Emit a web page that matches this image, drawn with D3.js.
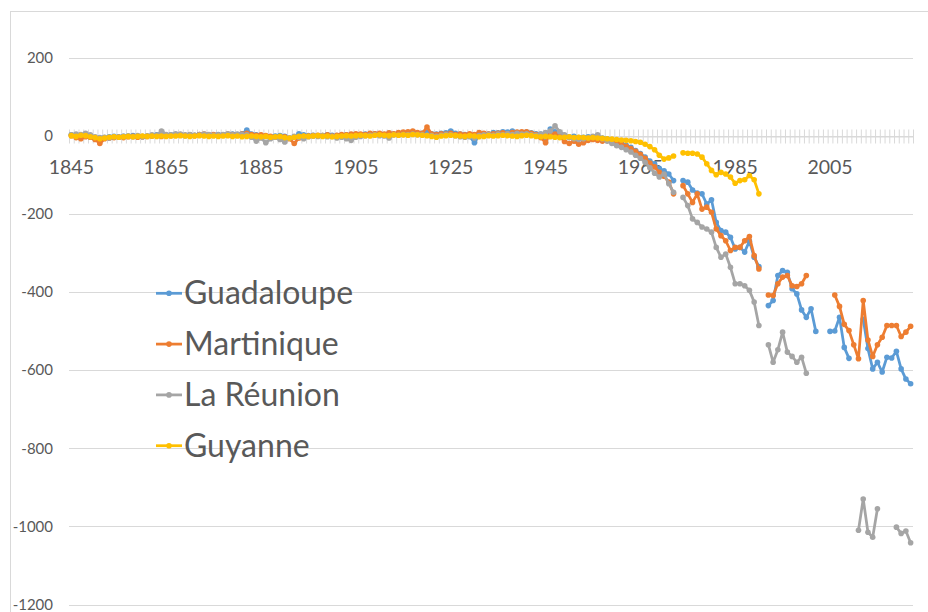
<!DOCTYPE html>
<html>
<head>
<meta charset="utf-8">
<script src="https://cdn.jsdelivr.net/npm/d3@7"></script>
<style>
  body { margin: 0; background: #fff; }
  text { font-family: Lato, "Open Sans", sans-serif; fill: #595959; }
</style>
</head>
<body>
<svg id="chart" width="928" height="612"></svg>
<script>
// categories: one per year
const years = d3.range(1845, 2023);
const xTickLabels = ['1845', '1865', '1885', '1905', '1925', '1945', '1965', '1985', '2005'];
const yTicks = [200, 0, -200, -400, -600, -800, -1000, -1200];
const seriesNames = ['Guadaloupe', 'Martinique', 'La Réunion', 'Guyanne'];
const seriesColors = ['#5B9BD5', '#ED7D31', '#A5A5A5', '#FFC000'];

const guadaloupe = [
  2, 0, -2, 3, -4, -8, -6, -5, -3, -2,
  -3, -2, -1, 0, -2, -3, -1, 0, 2, 1,
  0, 2, 3, 1, 0, 2, 1, 3, 2, 1,
  2, 3, 1, 2, 4, 3, 5, 14, 4, 2,
  0, -2, -3, -1, 0, -2, -6, -4, 5, 2,
  0, 1, -1, 0, 2, 1, 0, -1, 2, 1,
  3, 2, 4, 3, 5, 4, 3, 6, 4, 5,
  6, 5, 7, 4, 6, 8, 5, 4, 6, 7,
  12, 6, 4, 3, -2, -18, 2, 5, 4, 8,
  7, 10, 9, 12, 8, 6, 9, 7, 5, 4,
  -4, 17, 10, 2, 0, -3, -2, -5, -4, -3,
  -3, -4, -6, -8, -12, -16, -20, -25, -30, -38,
  -46, -55, -65, -72, -85, -90, -98, -115, null, -115,
  -119, -139, -147, -149, -175, -164, -222, -243, -247, -260,
  -290, -286, -298, -270, -311, -335, null, -435, -422, -358,
  -345, -350, -392, -405, -446, -465, -443, -501, null, null,
  -501, -500, -465, -542, -570, null, null, -470, -545, -597,
  -580, -605, -567, -569, -552, -597, -623, -635
];

const martinique = [
  0, -5, -8, -3, -4, -10, -20, -8, -6, -5,
  -4, -5, -3, -2, -4, -3, -2, -1, 0, -2,
  1, 0, 2, 3, 1, 2, 0, 3, 4, 2,
  3, 1, 2, 4, 3, 2, 4, 6, 3, 1,
  2, 0, -2, -4, -6, -3, -8, -20, -6, -2,
  -1, 0, 1, 0, 2, -1, 1, 3, 2, 4,
  5, 4, 3, 6, 5, 6, 4, 7, 5, 8,
  9, 10, 12, 8, 6, 22, 4, 3, 5, 4,
  6, 3, 4, 2, 5, 3, 8, 6, 4, 5,
  6, 7, 5, 8, 9, 10, 10, 6, 3, -5,
  -18, 8, 4, -2, -15, -20, -14, -22, -18, -12,
  -10, -12, -14, -12, -14, -18, -22, -27, -33, -40,
  -48, -58, -70, -80, -94, -104, -119, -149, null, -128,
  -149, -171, -149, -188, -183, -196, -239, -256, -269, -294,
  -286, -286, -269, -258, -307, -341, null, -408, -409, -379,
  -362, -358, -384, -386, -379, -358, null, null, null, null,
  null, -408, -437, -483, -499, -535, -571, -422, -523, -565,
  -535, -516, -486, -486, -486, -514, -503, -488
];

const reunion = [
  2, 4, 3, 6, 2, -3, -5, -4, -6, -3,
  -4, -2, -1, -3, 0, -2, -1, 2, 1, 12,
  3, 2, 5, 4, 2, 3, 1, 2, 4, 3,
  1, 2, 3, 5, 2, 4, 3, 2, -4, -14,
  -6, -18, -8, -4, -10, -16, -6, -2, -4, -8,
  -3, -1, -2, 0, -3, -2, -6, -4, -8, -12,
  -4, -2, 0, 1, 2, 0, -1, -6, 2, 1,
  3, 2, 4, 3, 2, 1, 0, -2, 1, 3,
  2, 0, -3, -4, -2, -6, 0, 2, 3, 1,
  4, 2, 5, 3, 6, 4, 5, 2, 1, 4,
  8, 12, 25, 10, 2, -5, -8, -10, -8, -5,
  -2, 2, -8, -14, -20, -26, -30, -36, -42, -50,
  -58, -68, -82, -96, -106, -98, -123, -145, null, -158,
  -179, -213, -222, -234, -239, -247, -286, -311, -303, -337,
  -379, -379, -384, -396, -426, -486, null, -535, -580, -548,
  -503, -554, -565, -580, -567, -608, null, null, null, null,
  null, null, null, null, null, null, -1010, -930, -1015, -1028,
  -955, null, null, null, -1002, -1018, -1012, -1042
];

const guyanne = [
  0, -2, 1, 0, -3, -5, -8, -6, -4, -3,
  -4, -3, -2, -3, -2, -1, -2, -1, -2, -1,
  -2, -1, -1, 0, -1, -2, -1, 0, -1, -2,
  -1, -2, -1, 0, -2, -1, -3, -2, -1, -2,
  -3, -2, -4, -3, -2, -5, -6, -4, -2, -1,
  -2, -1, 0, -2, -1, -3, -2, -1, 0, -1,
  0, 1, 0, -1, 1, 2, 1, 0, 2, 1,
  2, 1, 3, 2, 1, 0, -2, -4, -1, 0,
  1, 0, -1, -2, 0, -1, -3, -2, 0, -1,
  0, 1, 0, -1, -2, 0, 1, 0, -2, -3,
  -2, -3, -4, -5, -4, -3, -5, -4, -5, -6,
  -5, -6, -7, -8, -9, -10, -11, -12, -13, -15,
  -17, -22, -28, -36, -50, -60, -57, -52, null, -44,
  -45, -45, -47, -55, -72, -89, -100, -94, -98, -106,
  -122, -115, -113, -102, -113, -149, null, null, null, null,
  null, null, null, null, null, null, null, null, null, null,
  null, null, null, null, null, null, null, null, null, null,
  null, null, null, null, null, null, null, null
];

const seriesValues = [guadaloupe, martinique, reunion, guyanne];

const svg = d3.select('#chart');
const plotLeft = 69, plotRight = 913, plotTop = 57.5, plotBottom = 604.5;

const x = d3.scaleBand().domain(years).range([plotLeft, plotRight]);
const y = d3.scaleLinear().domain([-1200, 200]).range([plotBottom, plotTop]);
const cx = yr => x(yr) + x.bandwidth() / 2;

// chart area border
svg.append('rect')
  .attr('x', 10.5).attr('y', 11.5)
  .attr('width', 940).attr('height', 640)
  .attr('fill', '#fff').attr('stroke', '#d9d9d9');

// horizontal gridlines
svg.append('g').selectAll('line')
  .data(yTicks)
  .enter().append('line')
  .attr('x1', plotLeft).attr('x2', plotRight)
  .attr('y1', d => Math.round(y(d)) + 0.5)
  .attr('y2', d => Math.round(y(d)) + 0.5)
  .attr('stroke', '#d9d9d9');

// y axis labels (plain hyphen, no thousands separator)
const yAxis = svg.append('g')
  .attr('transform', 'translate(53,0)')
  .call(d3.axisLeft(y).tickValues(yTicks).tickSize(0).tickPadding(0)
    .tickFormat(d => (d < 0 ? '-' : '') + Math.abs(d)));
yAxis.select('.domain').remove();
yAxis.selectAll('text')
  .style('font-size', '15px')
  .style('font-family', 'Lato, sans-serif')
  .attr('fill', '#595959');

// category axis at zero: tick marks between categories
const y0 = Math.round(y(0)) + 0.5;
const xEdge = d3.scaleLinear().domain([0, years.length]).range([plotLeft, plotRight]);
const tickAxis = svg.append('g')
  .attr('transform', 'translate(0,' + y0 + ')')
  .call(d3.axisBottom(xEdge).tickValues(d3.range(years.length + 1)).tickFormat(''));
tickAxis.selectAll('.tick line')
  .attr('y1', -7).attr('y2', 7)
  .attr('stroke', '#d9d9d9');
tickAxis.select('.domain')
  .attr('stroke', '#d9d9d9');

// year labels
const xAxis = svg.append('g')
  .attr('transform', 'translate(0,' + y(0) + ')')
  .call(d3.axisBottom(x).tickValues(xTickLabels.map(Number)).tickSize(0).tickPadding(25));
xAxis.select('.domain').remove();
xAxis.selectAll('text')
  .style('font-size', '19.5px')
  .style('font-family', 'Lato, sans-serif')
  .attr('fill', '#595959');

// series
const line = d3.line()
  .defined(d => d.v !== null)
  .x(d => cx(d.year))
  .y(d => y(d.v));

seriesValues.forEach((vals, i) => {
  const pts = years.map((yr, j) => ({ year: yr, v: vals[j] }));
  svg.append('path')
    .datum(pts)
    .attr('d', line)
    .attr('fill', 'none')
    .attr('stroke', seriesColors[i])
    .attr('stroke-width', 2.75)
    .attr('stroke-linejoin', 'round')
    .attr('stroke-linecap', 'round');
  svg.append('g').selectAll('circle')
    .data(pts.filter(d => d.v !== null))
    .enter().append('circle')
    .attr('cx', d => cx(d.year))
    .attr('cy', d => y(d.v))
    .attr('r', 2.8)
    .attr('fill', seriesColors[i]);
});

// legend
const legend = svg.append('g');
seriesNames.forEach((name, i) => {
  const ly = 293.3 + i * 50.8;
  legend.append('line')
    .attr('x1', 156).attr('x2', 182)
    .attr('y1', ly).attr('y2', ly)
    .attr('stroke', seriesColors[i])
    .attr('stroke-width', 2.75);
  legend.append('circle')
    .attr('cx', 169).attr('cy', ly).attr('r', 2.8)
    .attr('fill', seriesColors[i]);
  legend.append('text')
    .attr('x', 184).attr('y', ly + 11)
    .style('font-size', '32px')
    .text(name);
});
</script>
</body>
</html>
